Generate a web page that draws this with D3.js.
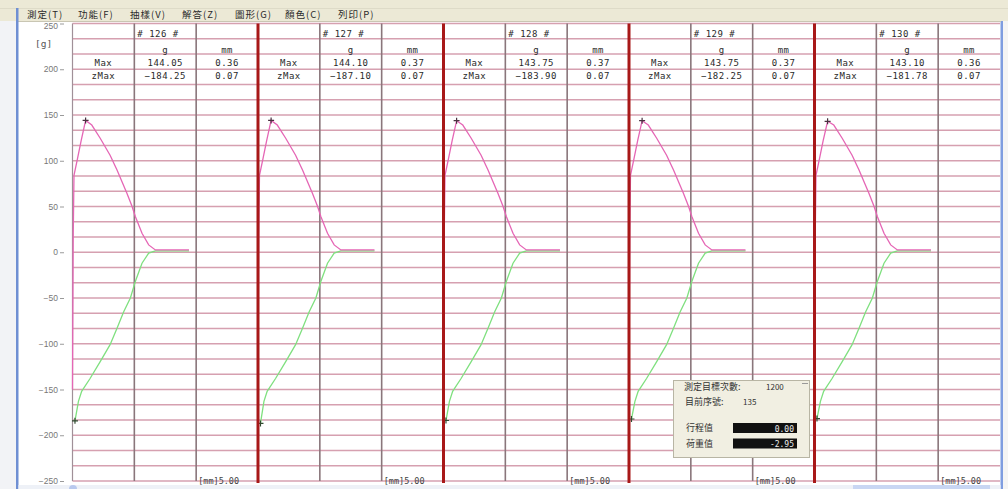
<!DOCTYPE html>
<html>
<head>
    <title>測定</title>
    <meta content="text/html;charset=utf-8" http-equiv="Content-Type">
    <script src="https://cdn.jsdelivr.net/npm/d3@7/dist/d3.min.js"></script>
    <style>
        body { margin: 0; overflow: hidden; background: #ffffff; }
    </style>
</head>
<body>
<script>
// dati
var panelIds = ["# 126 #", "# 127 #", "# 128 #", "# 129 #", "# 130 #"];
var maxG = [144.05, 144.10, 143.75, 143.75, 143.10];
var maxMm = [0.36, 0.37, 0.37, 0.37, 0.36];
var zMaxG = [-184.25, -187.10, -183.90, -182.25, -181.78];
var zMaxMm = [0.07, 0.07, 0.07, 0.07, 0.07];
var yTicks = [250, 200, 150, 100, 50, 0, -50, -100, -150, -200, -250];
var menuItems = ["測定(T)", "功能(F)", "抽樣(V)", "解答(Z)", "圖形(G)", "顏色(C)", "列印(P)"];

// curva di ritorno (rosa): stroke mm, carico g; il picco prende il Max del pannello
var pinkMm = [0.00, 0.03, 0.06, 0.20, 0.35, 0.53, 0.78, 1.12, 1.52, 1.80, 2.20, 2.41, 2.54, 2.81, 3.08, 3.35, 3.60, 4.71];
var pinkG  = [-150, 20, 84, 102, 122, null, 139, 124.6, 106, 90, 64.5, 50, 39, 20.8, 8, 2.5, 2.5, 2.5];
// curva di pressione (verde): il primo punto prende lo zMax del pannello
var greenMm = [0.10, 0.24, 0.37, 0.71, 1.12, 1.52, 1.80, 2.07, 2.34, 2.54, 2.81, 3.08, 3.35, 4.71];
var greenG  = [null, -163, -152, -138, -119.6, -101, -83, -65, -50, -32, -12, -1, 1.4, 1.4];

var stroke = 7.5;       // mm per pannello
var colTicks = [2.5, 5.0];

var width = 1008;
var height = 489;
var plotLeft = 72.5;
var plotTop = 23.5;
var plotBottom = 481;
var panelW = 185.5;

var svg = d3.select("body").append("svg")
    .attr("width", width).attr("height", height)
    .style("font-family", "'DejaVu Sans Mono', monospace");

// clip per le etichette dell'asse sotto la barra del menu
svg.append("defs").append("clipPath").attr("id", "axclip")
    .append("rect").attr("x", -70).attr("y", 22).attr("width", 80).attr("height", 470);

// cornice finestra
svg.append("rect").attr("x", 0).attr("y", 0).attr("width", 16).attr("height", height).attr("fill", "#f2f3f6");
svg.append("rect").attr("x", 16).attr("y", 0).attr("width", 2.5).attr("height", height).attr("fill", "#6f8fd3");
svg.append("rect").attr("x", 1000.5).attr("y", 0).attr("width", 2.5).attr("height", height).attr("fill", "#7f9de0");
svg.append("rect").attr("x", 1003).attr("y", 0).attr("width", 5).attr("height", height).attr("fill", "#f4f4f4");

var yScale = d3.scaleLinear().domain([-250, 250]).range([plotBottom, plotTop]);

// griglia orizzontale ogni 50/3 g
var gridVals = d3.range(0, 31).map(function(k){ return -250 + k * 50 / 3; });
svg.append("g").selectAll("line")
    .data(gridVals)
    .enter()
    .append("line")
    .attr("x1", plotLeft).attr("x2", plotLeft + panelW * 5)
    .attr("y1", function(d){ return yScale(d); })
    .attr("y2", function(d){ return yScale(d); })
    .attr("stroke", "#d6a0b0")
    .attr("stroke-width", 1.6);

// asse y
var yAxis = d3.axisLeft(yScale).tickValues(yTicks).tickSize(4).tickPadding(2);
var ag = svg.append("g").attr("transform", "translate(64,0)").attr("clip-path", "url(#axclip)").call(yAxis);
ag.select(".domain").remove();
ag.selectAll("line").attr("stroke", "#9a9a9a");
ag.selectAll("text").attr("fill", "#777").style("font-size", "8.5px");
ag.selectAll(".tick").filter(function(d){ return d === 250; }).select("text").attr("dy", "0.55em");
svg.append("text").attr("x", 35).attr("y", 47).text("[g]")
    .attr("fill", "#555").style("font-size", "9.5px");

svg.append("line").attr("x1", plotLeft).attr("x2", plotLeft)
    .attr("y1", plotTop).attr("y2", plotBottom)
    .attr("stroke", "#a09098").attr("stroke-width", 1.2);

var pinkLine = d3.line();
var fmt = d3.format(".2f");

function crossPath(x, y){
    return "M" + (x - 3) + "," + y + "H" + (x + 3) + "M" + x + "," + (y - 3) + "V" + (y + 3);
}

for (let i = 0; i < panelIds.length; i++) {
    var left = plotLeft + panelW * i;
    var xScale = d3.scaleLinear().domain([0, stroke]).range([left, left + panelW]);
    var p = svg.append("g");

    // linee delle colonne
    p.selectAll("line.col")
        .data(colTicks)
        .enter()
        .append("line")
        .attr("class", "col")
        .attr("x1", function(d){ return xScale(d); })
        .attr("x2", function(d){ return xScale(d); })
        .attr("y1", plotTop).attr("y2", plotBottom)
        .attr("stroke", "#8a767b").attr("stroke-width", 1.6);

    // intestazione
    var c1 = xScale(colTicks[0] / 2);
    var c2 = xScale((colTicks[0] + colTicks[1]) / 2);
    var c3 = xScale((colTicks[1] + stroke) / 2);
    var hd = p.append("g").attr("fill", "#2a2a2a").style("font-size", "9px")
        .style("letter-spacing", "0.5px").attr("text-anchor", "middle");
    hd.append("text").attr("x", xScale(colTicks[0]) + 3).attr("y", 36.5).attr("text-anchor", "start").text(panelIds[i]);
    hd.append("text").attr("x", c2).attr("y", 52.5).text("g");
    hd.append("text").attr("x", c3).attr("y", 52.5).text("mm");
    hd.append("text").attr("x", c1).attr("y", 66).text("Max");
    hd.append("text").attr("x", c2).attr("y", 66).text(fmt(maxG[i]));
    hd.append("text").attr("x", c3).attr("y", 66).text(fmt(maxMm[i]));
    hd.append("text").attr("x", c1).attr("y", 79).text("zMax");
    hd.append("text").attr("x", c2).attr("y", 79).text(fmt(zMaxG[i]));
    hd.append("text").attr("x", c3).attr("y", 79).text(fmt(zMaxMm[i]));

    // etichetta in basso
    p.append("text").attr("x", xScale(colTicks[1]) + 2).attr("y", 483.5)
        .attr("fill", "#444").style("font-size", "8.5px").text("[mm]" + fmt(colTicks[1]));

    // curve
    var pinkPts = pinkMm.map(function(m, k){ return [xScale(m), yScale(pinkG[k] === null ? maxG[i] : pinkG[k])]; });
    var greenPts = greenMm.map(function(m, k){ return [xScale(m), yScale(greenG[k] === null ? zMaxG[i] : greenG[k])]; });
    p.append("path").attr("d", pinkLine(greenPts)).attr("fill", "none")
        .attr("stroke", "#7fe07f").attr("stroke-width", 1.3);
    p.append("path").attr("d", pinkLine(pinkPts)).attr("fill", "none")
        .attr("stroke", "#e566b5").attr("stroke-width", 1.3);

    // marcatori di max e min
    var pk = pinkPts[pinkG.indexOf(null)];
    var mn = greenPts[0];
    p.append("path").attr("d", crossPath(pk[0], pk[1])).attr("stroke", "#4a3040").attr("stroke-width", 1.2);
    p.append("path").attr("d", crossPath(mn[0], mn[1])).attr("stroke", "#304a30").attr("stroke-width", 1.2);
}

// separatori rossi tra i pannelli
svg.append("g").selectAll("line")
    .data(d3.range(1, panelIds.length))
    .enter()
    .append("line")
    .attr("x1", function(d){ return plotLeft + panelW * d; })
    .attr("x2", function(d){ return plotLeft + panelW * d; })
    .attr("y1", plotTop).attr("y2", plotBottom + 2)
    .attr("stroke", "#a81818").attr("stroke-width", 3);

// barra del menu
svg.append("rect").attr("x", 0).attr("y", 0).attr("width", width).attr("height", 21).attr("fill", "#ece9d6");
svg.append("line").attr("x1", 0).attr("x2", width).attr("y1", 8.5).attr("y2", 8.5).attr("stroke", "#dedbc8");
svg.append("line").attr("x1", 18).attr("x2", 1001).attr("y1", 21.5).attr("y2", 21.5).attr("stroke", "#c9c6b3");
svg.append("rect").attr("x", 16).attr("y", 8).attr("width", 2.5).attr("height", 14).attr("fill", "#6f8fd3");
var menuX = [27, 78, 130, 182, 235, 285, 338];
svg.append("g").selectAll("text")
    .data(menuItems)
    .enter()
    .append("text")
    .attr("x", function(d, k){ return menuX[k]; })
    .attr("y", 17.5)
    .attr("fill", "#2a2a2a")
    .style("font-family", "'Noto Sans CJK TC', sans-serif")
    .style("font-size", "9.5px")
    .style("letter-spacing", "1px")
    .text(function(d){ return d; });

// barra di scorrimento
svg.append("rect").attr("x", 18.5).attr("y", 485).attr("width", 982).attr("height", 4).attr("fill", "#eef1f7");
svg.append("rect").attr("x", 853).attr("y", 485).attr("width", 137).attr("height", 4).attr("fill", "#c8d6f3");
svg.append("circle").attr("cx", 73).attr("cy", 489).attr("r", 4).attr("fill", "#b9c9ee");

// finestra di dialogo
var dlg = svg.append("g").style("font-family", "'Noto Sans CJK TC', sans-serif").style("font-size", "9px");
dlg.append("rect").attr("x", 673.5).attr("y", 380.5).attr("width", 136).attr("height", 77)
    .attr("fill", "#f1efe2").attr("stroke", "#b8b5a4");
dlg.append("line").attr("x1", 802).attr("x2", 808).attr("y1", 383.5).attr("y2", 383.5).attr("stroke", "#999");
dlg.append("text").attr("x", 684).attr("y", 390).attr("fill", "#333").text("測定目標次數:");
dlg.append("text").attr("x", 766).attr("y", 390).attr("fill", "#333").style("font-size", "8px").text("1200");
dlg.append("text").attr("x", 685).attr("y", 405).attr("fill", "#333").text("目前序號:");
dlg.append("text").attr("x", 743).attr("y", 405).attr("fill", "#333").style("font-size", "8px").text("135");
dlg.append("text").attr("x", 686).attr("y", 431).attr("fill", "#333").text("行程值");
dlg.append("text").attr("x", 686).attr("y", 447).attr("fill", "#333").text("荷重值");
dlg.append("rect").attr("x", 733).attr("y", 423).attr("width", 64).attr("height", 10).attr("fill", "#111");
dlg.append("rect").attr("x", 733).attr("y", 438.5).attr("width", 64).attr("height", 10).attr("fill", "#111");
dlg.append("text").attr("x", 794).attr("y", 431.5).attr("text-anchor", "end").attr("fill", "#eee")
    .style("font-family", "'DejaVu Sans Mono', monospace").style("font-size", "8px").text("0.00");
dlg.append("text").attr("x", 794).attr("y", 447).attr("text-anchor", "end").attr("fill", "#eee")
    .style("font-family", "'DejaVu Sans Mono', monospace").style("font-size", "8px").text("-2.95");
</script>
</body>
</html>
